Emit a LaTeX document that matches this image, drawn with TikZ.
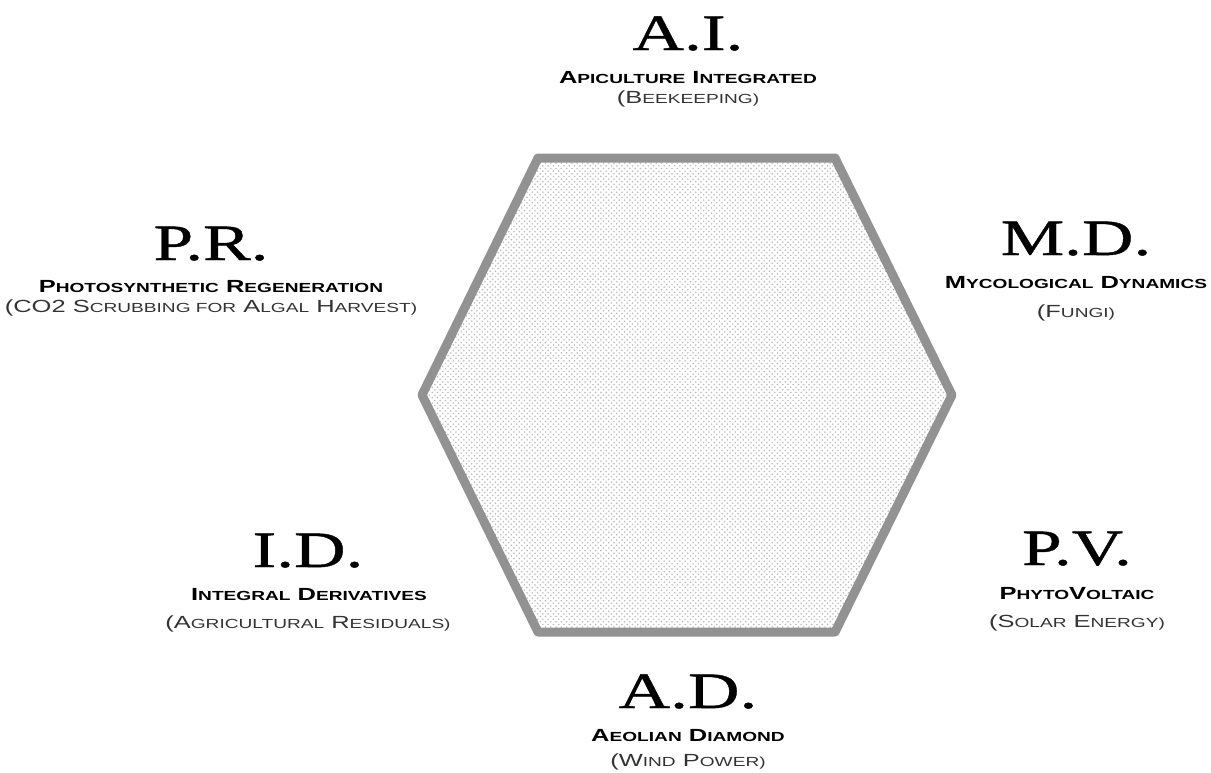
\documentclass[tikz,border=0pt]{standalone}
\usepackage{fontspec}
\usetikzlibrary{patterns}
\newfontfamily\titlefont[FakeStretch=1.4,FakeBold=0.8]{Liberation Serif}
\newfontfamily\capfont[FakeStretch=1.45]{Liberation Sans}
\definecolor{HexGray}{RGB}{146,146,146}
% fake small caps: big initial, small rest
\newcommand{\sw}[2]{{\fontsize{10}{11}\selectfont #1}{\fontsize{7.5}{9}\selectfont #2}}

\begin{document}
\begin{tikzpicture}[x=0.02cm,y=-0.02cm,
  ttl/.style={anchor=base,inner sep=0pt,font=\titlefont\fontsize{29}{30}\selectfont},
  nm/.style={anchor=base,inner sep=0pt,font=\capfont\bfseries},
  nt/.style={anchor=base,inner sep=0pt,font=\capfont,text=black!80}
]
  \useasboundingbox (0,0) rectangle (1211,772);
  % hexagon
  \coordinate (h1) at (538,158);
  \coordinate (h2) at (835,158);
  \coordinate (h3) at (952,395);
  \coordinate (h4) at (835,632);
  \coordinate (h5) at (538,632);
  \coordinate (h6) at (422,395);
  \fill[pattern=crosshatch dots,pattern color=gray!55] (h1)--(h2)--(h3)--(h4)--(h5)--(h6)--cycle;
  \draw[HexGray,line width=0.18cm,line join=round] (h1)--(h2)--(h3)--(h4)--(h5)--(h6)--cycle;

  % top
  \node[ttl] (ai) at (688,50) {A.I.};
  \node[nm] (ainm) at (688,83) {\sw{A}{PICULTURE} \sw{I}{NTEGRATED}};
  \node[nt] (aint) at (688,103) {\sw{(B}{EEKEEPING)}};
  % upper left
  \node[ttl] (pr) at (211,260) {P.R.};
  \node[nm] (prnm) at (211,292) {\sw{P}{HOTOSYNTHETIC} \sw{R}{EGENERATION}};
  \node[nt] (prnt) at (211,312) {\sw{(CO2 S}{CRUBBING FOR} \sw{A}{LGAL} \sw{H}{ARVEST)}};
  % upper right
  \node[ttl] (md) at (1076,255) {M.D.};
  \node[nm] (mdnm) at (1076,288) {\sw{M}{YCOLOGICAL} \sw{D}{YNAMICS}};
  \node[nt] (mdnt) at (1076,317) {\sw{(F}{UNGI)}};
  % lower right
  \node[ttl] (pv) at (1077,565) {P.V.};
  \node[nm] (pvnm) at (1077,599) {\sw{P}{HYTO}\sw{V}{OLTAIC}};
  \node[nt] (pvnt) at (1077,627) {\sw{(S}{OLAR} \sw{E}{NERGY)}};
  % lower left
  \node[ttl] (id) at (308,567) {I.D.};
  \node[nm] (idnm) at (309,600) {\sw{I}{NTEGRAL} \sw{D}{ERIVATIVES}};
  \node[nt] (idnt) at (308,628) {\sw{(A}{GRICULTURAL} \sw{R}{ESIDUALS)}};
  % bottom
  \node[ttl] (ad) at (688,708) {A.D.};
  \node[nm] (adnm) at (688,741) {\sw{A}{EOLIAN} \sw{D}{IAMOND}};
  \node[nt] (adnt) at (688,766) {\sw{(W}{IND} \sw{P}{OWER)}};
\end{tikzpicture}
\end{document}
